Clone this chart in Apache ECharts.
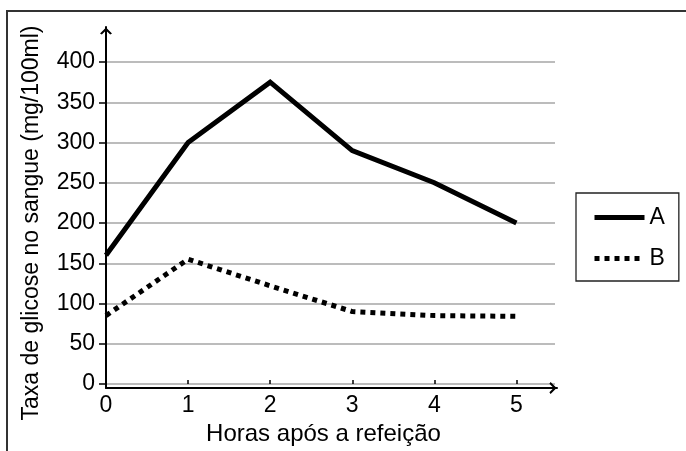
<!DOCTYPE html>
<html>
<head>
<meta charset="utf-8">
<script src="https://cdn.jsdelivr.net/npm/echarts@6/dist/echarts.min.js"></script>
<style>
html,body{margin:0;padding:0;background:#fff;}
#c{width:686px;height:451px;}
</style>
</head>
<body>
<div id="c"></div>
<script>
// Data
var hours = [0, 1, 2, 3, 4, 5];
var seriesA = [160, 300, 375, 290, 250, 200];
var seriesB = [85, 155, 122, 90, 85, 84];
var yTicks = [0, 50, 100, 150, 200, 250, 300, 350, 400];
var xTicks = [0, 1, 2, 3, 4, 5];
var seriesNames = ['A', 'B'];
var yTitle = 'Taxa de glicose no sangue (mg/100ml)';
var xTitle = 'Horas após a refeição';

var FONT = '"Liberation Sans", Arial, sans-serif';
var chevron = 'path://M10,0 L20,10 L17,12 L10,5 L3,12 L0,10 Z';

function pairs(vals) { return hours.map(function (h, i) { return [h, vals[i]]; }); }

var chart = echarts.init(document.getElementById('c'), null, {renderer: 'canvas'});
chart.setOption({
  animation: false,
  backgroundColor: '#fff',
  graphic: [{
    type: 'rect', shape: {x: 7, y: 11, width: 720, height: 480},
    style: {fill: 'none', stroke: '#333', lineWidth: 2}, z: 0
  }],
  grid: [
    {left: 106, top: 62, right: 131, bottom: 63},
    {left: 106, top: 27, right: 129, bottom: 63}
  ],
  legend: {
    data: seriesNames,
    orient: 'vertical',
    left: 576, top: 193,
    padding: [13, 14, 11, 16],
    itemWidth: 50, itemHeight: 14, itemGap: 18,
    itemStyle: {opacity: 0},
    lineStyle: {width: 5},
    borderColor: '#222', borderWidth: 1.3,
    textStyle: {fontFamily: FONT, fontSize: 23, color: '#000'}
  },
  xAxis: [{
    gridIndex: 0, type: 'value', min: 0, max: 5.47, interval: 1,
    axisLine: {show: false},
    axisTick: {show: true, inside: true, length: 4, lineStyle: {color: '#000', width: 1.5}, customValues: [1, 2, 3, 4, 5]},
    axisLabel: {customValues: xTicks, margin: 10, fontFamily: FONT, fontSize: 23, color: '#000',
      formatter: function (v) { return (v % 1 === 0) ? String(v) : ''; }},
    splitLine: {show: false},
    name: xTitle, nameLocation: 'middle', nameGap: 38,
    nameTextStyle: {fontFamily: FONT, fontSize: 24, color: '#000', padding: [0, 14, 0, 0]}
  }, {
    gridIndex: 1, type: 'value', min: 0, max: 1,
    axisLine: {show: true, lineStyle: {color: '#000', width: 2}, symbol: ['none', chevron], symbolSize: [12, 8], symbolOffset: [0, -4]},
    axisTick: {show: false}, axisLabel: {show: false}, splitLine: {show: false}
  }],
  yAxis: [{
    gridIndex: 0, type: 'value', min: 0, max: 400, interval: 50,
    axisLine: {show: false},
    axisTick: {show: true, length: 7, lineStyle: {color: '#000', width: 1.5}},
    axisLabel: {margin: 11, fontFamily: FONT, fontSize: 23, color: '#000'},
    splitLine: {show: true, lineStyle: {color: '#a6a6a6', width: 1.5}},
    name: yTitle, nameLocation: 'middle', nameGap: 63, nameRotate: 90,
    nameTextStyle: {fontFamily: FONT, fontSize: 23, color: '#000'}
  }, {
    gridIndex: 1, type: 'value', min: 0, max: 1,
    axisLine: {show: true, lineStyle: {color: '#000', width: 2}, symbol: ['none', chevron], symbolSize: [12, 8], symbolOffset: [0, -4]},
    axisTick: {show: false}, axisLabel: {show: false}, splitLine: {show: false}
  }],
  series: [{
    name: seriesNames[0], type: 'line', xAxisIndex: 0, yAxisIndex: 0,
    data: pairs(seriesA), symbol: 'none', z: 5,
    lineStyle: {color: '#000', width: 5, type: 'solid', join: 'miter'},
    itemStyle: {color: '#000'}
  }, {
    name: seriesNames[1], type: 'line', xAxisIndex: 0, yAxisIndex: 0,
    data: pairs(seriesB), symbol: 'none', z: 5,
    lineStyle: {color: '#000', width: 5, type: [5, 5], cap: 'butt'},
    itemStyle: {color: '#000'}
  }]
});
</script>
</body>
</html>
